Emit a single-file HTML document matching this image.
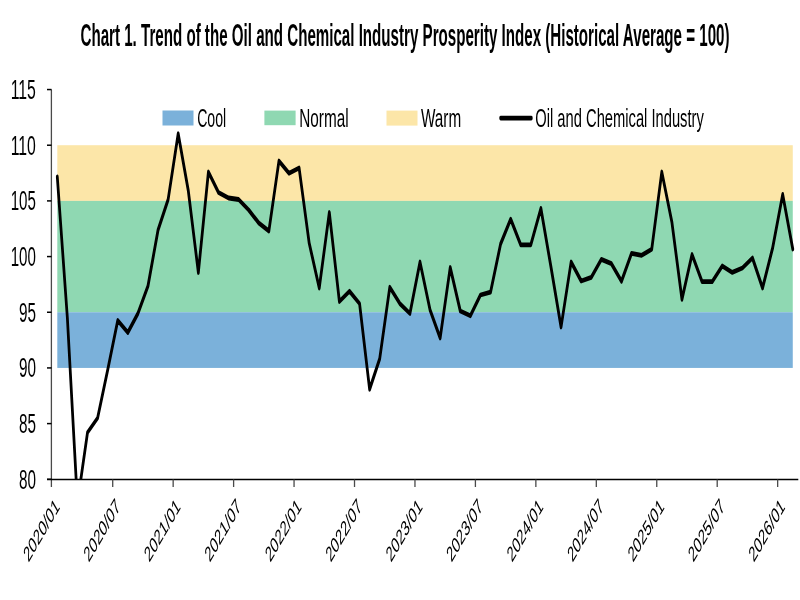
<!DOCTYPE html>
<html><head><meta charset="utf-8"><style>
html,body{margin:0;padding:0;background:#fff;}
svg{display:block;will-change:transform;}
text{font-family:'Liberation Sans',sans-serif;fill:#000;}
</style></head><body>
<svg width="800" height="600" viewBox="0 0 800 600">
<defs><clipPath id="pc"><rect x="40" y="60" width="760" height="419.5"/></clipPath></defs>
<rect width="800" height="600" fill="#fff"/>

<rect x="57.30" y="145.22" width="735.47" height="55.67" fill="#FCE6A8"/>
<rect x="57.30" y="200.90" width="735.47" height="111.35" fill="#8FD8B2"/>
<rect x="57.30" y="312.25" width="735.47" height="55.68" fill="#7BB1DA"/>
<g clip-path="url(#pc)"><g transform="scale(0.575,1)"><polyline points="99.65,177.00 117.17,318.00 134.69,503.00 152.21,432.50 169.73,418.00 187.26,370.00 204.78,320.50 222.30,332.50 239.82,313.50 257.34,286.00 274.87,230.00 292.39,199.50 309.91,133.70 327.43,190.50 344.95,272.50 362.47,172.00 380.00,192.50 397.52,198.00 415.04,199.50 432.56,210.00 450.08,223.00 467.60,231.00 485.13,161.00 502.65,173.30 520.17,168.00 537.69,243.00 555.21,288.00 572.73,212.50 590.26,301.50 607.78,291.20 625.30,303.60 642.82,389.20 660.34,358.80 677.87,287.30 695.39,303.60 712.91,313.50 730.43,262.00 747.95,310.00 765.47,338.00 783.00,267.50 800.52,311.00 818.04,315.80 835.56,295.00 853.08,292.20 870.60,244.00 888.13,219.20 905.65,244.80 923.17,244.80 940.69,208.50 958.21,267.00 975.73,327.00 993.26,262.00 1010.78,281.00 1028.30,277.30 1045.82,259.30 1063.34,263.70 1080.87,281.30 1098.39,253.30 1115.91,255.30 1133.43,249.30 1150.95,172.00 1168.47,222.00 1186.00,299.30 1203.52,254.50 1221.04,281.70 1238.56,281.70 1256.08,266.00 1273.60,272.40 1291.13,268.00 1308.65,258.00 1326.17,288.00 1343.69,248.00 1361.21,194.40 1378.73,249.00" fill="none" stroke="#000" stroke-width="4.8" stroke-linejoin="round" stroke-linecap="round"/></g></g>
<line x1="51.4" y1="89.55" x2="51.4" y2="487" stroke="#4a4a4a" stroke-width="1.3"/>
<line x1="47" y1="479.27" x2="51.5" y2="479.27" stroke="#000" stroke-width="1.5"/>
<text x="35.9" y="488.62" font-size="26.8" text-anchor="end" textLength="17" lengthAdjust="spacingAndGlyphs">80</text>
<line x1="47" y1="423.60" x2="51.5" y2="423.60" stroke="#000" stroke-width="1.5"/>
<text x="35.9" y="432.95" font-size="26.8" text-anchor="end" textLength="17" lengthAdjust="spacingAndGlyphs">85</text>
<line x1="47" y1="367.93" x2="51.5" y2="367.93" stroke="#000" stroke-width="1.5"/>
<text x="35.9" y="377.28" font-size="26.8" text-anchor="end" textLength="17" lengthAdjust="spacingAndGlyphs">90</text>
<line x1="47" y1="312.25" x2="51.5" y2="312.25" stroke="#000" stroke-width="1.5"/>
<text x="35.9" y="321.60" font-size="26.8" text-anchor="end" textLength="17" lengthAdjust="spacingAndGlyphs">95</text>
<line x1="47" y1="256.57" x2="51.5" y2="256.57" stroke="#000" stroke-width="1.5"/>
<text x="35.9" y="265.93" font-size="26.8" text-anchor="end" textLength="25.2" lengthAdjust="spacingAndGlyphs">100</text>
<line x1="47" y1="200.90" x2="51.5" y2="200.90" stroke="#000" stroke-width="1.5"/>
<text x="35.9" y="210.25" font-size="26.8" text-anchor="end" textLength="25.2" lengthAdjust="spacingAndGlyphs">105</text>
<line x1="47" y1="145.22" x2="51.5" y2="145.22" stroke="#000" stroke-width="1.5"/>
<text x="35.9" y="154.57" font-size="26.8" text-anchor="end" textLength="25.2" lengthAdjust="spacingAndGlyphs">110</text>
<line x1="47" y1="89.55" x2="51.5" y2="89.55" stroke="#000" stroke-width="1.5"/>
<text x="35.9" y="98.90" font-size="26.8" text-anchor="end" textLength="25.2" lengthAdjust="spacingAndGlyphs">115</text>
<line x1="47" y1="479.5" x2="798.3" y2="479.5" stroke="#000" stroke-width="1.5"/>
<g transform="translate(53.96,496.8) scale(0.58,1) rotate(-45)"><text x="0" y="0" font-size="21.6" text-anchor="end" dominant-baseline="hanging">2020/01</text></g>
<line x1="112.71" y1="479.5" x2="112.71" y2="487" stroke="#4a4a4a" stroke-width="1.3"/>
<g transform="translate(114.41,496.8) scale(0.58,1) rotate(-45)"><text x="0" y="0" font-size="21.6" text-anchor="end" dominant-baseline="hanging">2020/07</text></g>
<line x1="173.16" y1="479.5" x2="173.16" y2="487" stroke="#4a4a4a" stroke-width="1.3"/>
<g transform="translate(174.86,496.8) scale(0.58,1) rotate(-45)"><text x="0" y="0" font-size="21.6" text-anchor="end" dominant-baseline="hanging">2021/01</text></g>
<line x1="233.61" y1="479.5" x2="233.61" y2="487" stroke="#4a4a4a" stroke-width="1.3"/>
<g transform="translate(235.31,496.8) scale(0.58,1) rotate(-45)"><text x="0" y="0" font-size="21.6" text-anchor="end" dominant-baseline="hanging">2021/07</text></g>
<line x1="294.06" y1="479.5" x2="294.06" y2="487" stroke="#4a4a4a" stroke-width="1.3"/>
<g transform="translate(295.76,496.8) scale(0.58,1) rotate(-45)"><text x="0" y="0" font-size="21.6" text-anchor="end" dominant-baseline="hanging">2022/01</text></g>
<line x1="354.51" y1="479.5" x2="354.51" y2="487" stroke="#4a4a4a" stroke-width="1.3"/>
<g transform="translate(356.21,496.8) scale(0.58,1) rotate(-45)"><text x="0" y="0" font-size="21.6" text-anchor="end" dominant-baseline="hanging">2022/07</text></g>
<line x1="414.96" y1="479.5" x2="414.96" y2="487" stroke="#4a4a4a" stroke-width="1.3"/>
<g transform="translate(416.66,496.8) scale(0.58,1) rotate(-45)"><text x="0" y="0" font-size="21.6" text-anchor="end" dominant-baseline="hanging">2023/01</text></g>
<line x1="475.41" y1="479.5" x2="475.41" y2="487" stroke="#4a4a4a" stroke-width="1.3"/>
<g transform="translate(477.11,496.8) scale(0.58,1) rotate(-45)"><text x="0" y="0" font-size="21.6" text-anchor="end" dominant-baseline="hanging">2023/07</text></g>
<line x1="535.86" y1="479.5" x2="535.86" y2="487" stroke="#4a4a4a" stroke-width="1.3"/>
<g transform="translate(537.56,496.8) scale(0.58,1) rotate(-45)"><text x="0" y="0" font-size="21.6" text-anchor="end" dominant-baseline="hanging">2024/01</text></g>
<line x1="596.31" y1="479.5" x2="596.31" y2="487" stroke="#4a4a4a" stroke-width="1.3"/>
<g transform="translate(598.01,496.8) scale(0.58,1) rotate(-45)"><text x="0" y="0" font-size="21.6" text-anchor="end" dominant-baseline="hanging">2024/07</text></g>
<line x1="656.76" y1="479.5" x2="656.76" y2="487" stroke="#4a4a4a" stroke-width="1.3"/>
<g transform="translate(658.46,496.8) scale(0.58,1) rotate(-45)"><text x="0" y="0" font-size="21.6" text-anchor="end" dominant-baseline="hanging">2025/01</text></g>
<line x1="717.21" y1="479.5" x2="717.21" y2="487" stroke="#4a4a4a" stroke-width="1.3"/>
<g transform="translate(718.91,496.8) scale(0.58,1) rotate(-45)"><text x="0" y="0" font-size="21.6" text-anchor="end" dominant-baseline="hanging">2025/07</text></g>
<line x1="777.66" y1="479.5" x2="777.66" y2="487" stroke="#4a4a4a" stroke-width="1.3"/>
<g transform="translate(779.36,496.8) scale(0.58,1) rotate(-45)"><text x="0" y="0" font-size="21.6" text-anchor="end" dominant-baseline="hanging">2026/01</text></g>
<text x="80.5" y="45.5" font-size="31" font-weight="bold" textLength="649" lengthAdjust="spacingAndGlyphs">Chart 1. Trend of the Oil and Chemical Industry Prosperity Index (Historical Average = 100)</text>
<rect x="162.5" y="110.5" width="31" height="15" fill="#7BB1DA"/>
<rect x="264.4" y="110.6" width="31.2" height="14.6" fill="#8FD8B2"/>
<rect x="386.5" y="110.6" width="31" height="15" fill="#FCE6A8"/>
<g transform="scale(0.575,1)"><line x1="870.61" y1="118.1" x2="924.17" y2="118.1" stroke="#000" stroke-width="4.6" stroke-linecap="round"/></g>
<text x="197.2" y="126.7" font-size="26.5" textLength="29" lengthAdjust="spacingAndGlyphs">Cool</text>
<text x="299.2" y="126.5" font-size="26.5" textLength="49.4" lengthAdjust="spacingAndGlyphs">Normal</text>
<text x="421" y="126.6" font-size="26.5" textLength="40.2" lengthAdjust="spacingAndGlyphs">Warm</text>
<text x="535.3" y="126.6" font-size="26.5" textLength="168.5" lengthAdjust="spacingAndGlyphs">Oil and Chemical Industry</text>
</svg></body></html>
